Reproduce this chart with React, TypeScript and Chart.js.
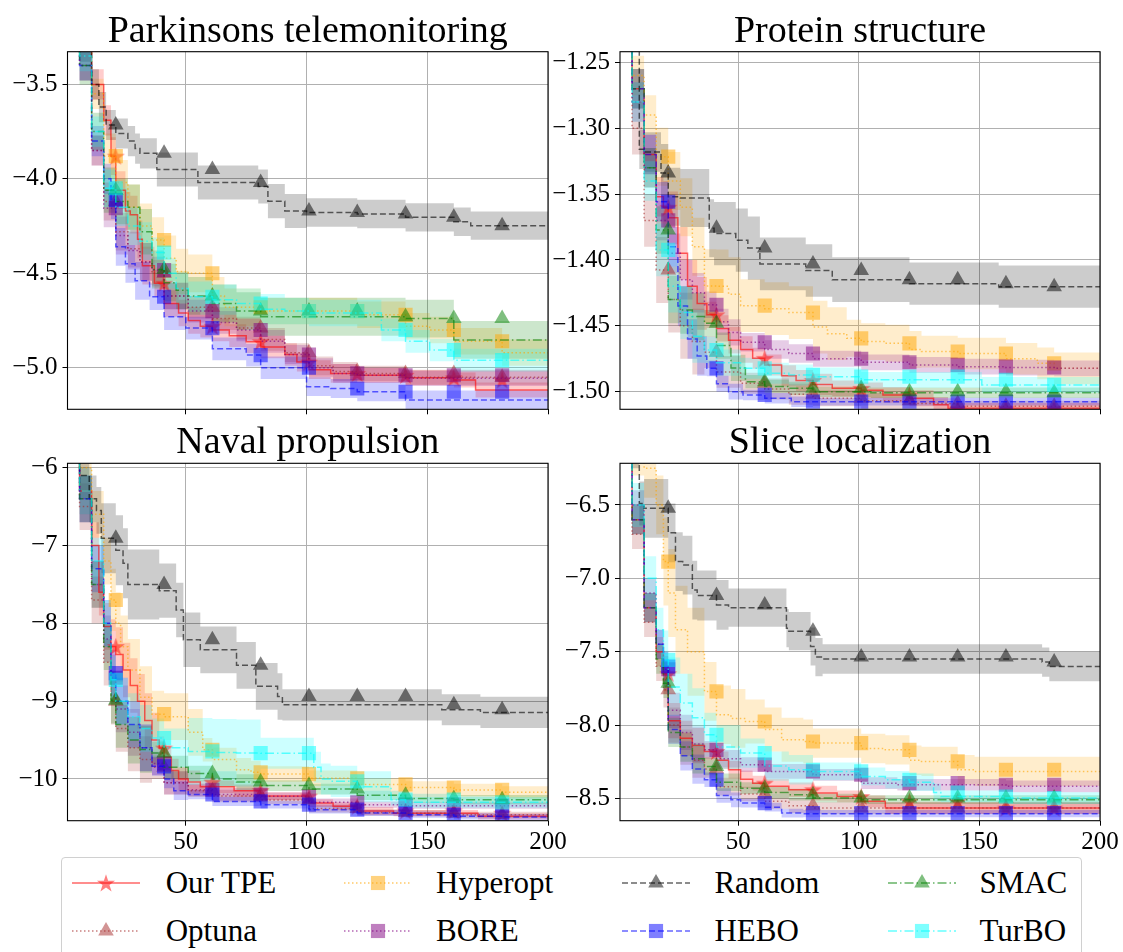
import React, { useEffect, useRef } from 'react';
import { Chart, registerables } from 'chart.js';

Chart.register(...registerables);
Chart.defaults.font.family = '"Liberation Serif", "Times New Roman", serif';

type Pt = [number, number];

// ---------- legend / series meta ----------
const METHODS = ['Our TPE', 'Optuna', 'Hyperopt', 'BORE', 'Random', 'HEBO', 'SMAC', 'TurBO'];
const X_TICKS = [50, 100, 150, 200];
const MARKER_X = [21, 41, 61, 81, 101, 121, 141, 161, 181];
const BAND_X = [1, 21, 41, 61, 101, 141];

// ---------- Parkinsons telemonitoring ----------
const PARK_Y_TICKS = [-5.0, -4.5, -4.0, -3.5];
const PARK_TPE: Pt[] = [[1,-2.5],[6,-2.9],[11,-3.25],[16,-3.5],[19,-3.69],[21,-3.88],[25,-4.06],[27,-4.17],[30,-4.19],[32,-4.32],[37,-4.46],[41,-4.553],[47,-4.66],[51,-4.71],[56,-4.75],[61,-4.78],[68,-4.8],[75,-4.83],[81,-4.862],[91,-4.89],[96,-4.93],[101,-4.97],[110,-5.01],[121,-5.03],[141,-5.04],[161,-5.053],[170,-5.065],[184,-5.118]];
const PARK_OPTUNA: Pt[] = [[1,-2.5],[6,-2.9],[11,-3.4],[16,-3.85],[21,-4.12],[26,-4.28],[31,-4.37],[36,-4.44],[41,-4.5],[51,-4.62],[61,-4.68],[71,-4.74],[81,-4.79],[91,-4.85],[101,-4.92],[111,-4.99],[121,-5.02],[141,-5.03],[181,-5.05]];
const PARK_HYPEROPT: Pt[] = [[1,-2.4],[6,-2.8],[11,-3.2],[16,-3.55],[21,-3.88],[26,-4.02],[31,-4.15],[36,-4.25],[41,-4.324],[46,-4.42],[51,-4.49],[61,-4.5],[66,-4.62],[81,-4.68],[101,-4.7],[121,-4.7],[141,-4.72],[151,-4.78],[161,-4.8],[181,-4.86],[191,-4.92]];
const PARK_BORE: Pt[] = [[1,-2.5],[6,-2.9],[11,-3.4],[16,-3.85],[21,-4.156],[26,-4.3],[31,-4.38],[36,-4.44],[41,-4.483],[51,-4.62],[61,-4.7],[71,-4.76],[81,-4.8],[91,-4.86],[101,-4.93],[111,-5.0],[121,-5.03],[141,-5.04],[190,-5.056]];
const PARK_RANDOM: Pt[] = [[1,-2.6],[6,-3.0],[11,-3.3],[14,-3.5],[17,-3.62],[21,-3.715],[26,-3.76],[29,-3.8],[31,-3.84],[38,-3.865],[55,-3.95],[80,-4.02],[84,-4.04],[91,-4.118],[100,-4.17],[121,-4.178],[141,-4.186],[161,-4.204],[168,-4.227],[173,-4.248]];
const PARK_HEBO: Pt[] = [[1,-2.5],[6,-2.9],[11,-3.4],[16,-3.8],[19,-4.0],[21,-4.112],[25,-4.36],[29,-4.45],[35,-4.54],[41,-4.624],[50,-4.73],[61,-4.79],[75,-4.9],[81,-4.933],[100,-5.0],[110,-5.1],[121,-5.11],[141,-5.127],[183,-5.171]];
const PARK_SMAC: Pt[] = [[1,-2.6],[6,-3.0],[11,-3.4],[16,-3.75],[21,-4.06],[26,-4.12],[31,-4.15],[36,-4.28],[41,-4.48],[46,-4.55],[51,-4.59],[61,-4.62],[71,-4.66],[81,-4.7],[141,-4.73],[161,-4.74],[194,-4.853]];
const PARK_TURBO: Pt[] = [[1,-2.5],[6,-2.9],[11,-3.35],[16,-3.75],[21,-4.05],[26,-4.15],[31,-4.25],[36,-4.33],[41,-4.39],[46,-4.5],[51,-4.58],[61,-4.624],[71,-4.64],[81,-4.66],[91,-4.69],[101,-4.7],[131,-4.71],[141,-4.8],[151,-4.86],[161,-4.906],[181,-4.96]];
const PARK_BANDS: number[][] = [
  [0.08, 0.1, 0.07, 0.06, 0.05, 0.04],
  [0.08, 0.1, 0.07, 0.06, 0.05, 0.04],
  [0.08, 0.12, 0.12, 0.1, 0.07, 0.07],
  [0.08, 0.1, 0.07, 0.06, 0.05, 0.04],
  [0.08, 0.08, 0.09, 0.09, 0.075, 0.075],
  [0.08, 0.1, 0.07, 0.06, 0.05, 0.05],
  [0.1, 0.12, 0.1, 0.1, 0.1, 0.1],
  [0.08, 0.1, 0.08, 0.08, 0.07, 0.06],
];

// ---------- Protein structure ----------
const PROT_Y_TICKS = [-1.5, -1.45, -1.4, -1.35, -1.3, -1.25];
const PROT_TPE: Pt[] = [[1,-1.1],[6,-1.2],[11,-1.27],[16,-1.32],[19,-1.352],[21,-1.36],[25,-1.368],[29,-1.395],[33,-1.42],[37,-1.433],[41,-1.4417],[46,-1.452],[51,-1.461],[56,-1.468],[61,-1.4747],[68,-1.4797],[74,-1.488],[81,-1.4915],[89,-1.4945],[101,-1.4975],[110,-1.499],[121,-1.5025],[131,-1.505],[137,-1.51],[141,-1.5126]];
const PROT_OPTUNA: Pt[] = [[1,-1.1],[6,-1.2],[11,-1.3],[16,-1.37],[21,-1.4076],[26,-1.43],[31,-1.45],[36,-1.462],[41,-1.47],[51,-1.485],[61,-1.4936],[71,-1.498],[81,-1.502],[101,-1.505],[121,-1.507],[141,-1.509],[161,-1.511]];
const PROT_HYPEROPT: Pt[] = [[1,-1.1],[6,-1.2],[11,-1.26],[16,-1.29],[21,-1.3216],[26,-1.34],[31,-1.36],[36,-1.39],[41,-1.4198],[46,-1.42],[51,-1.426],[61,-1.4347],[71,-1.437],[81,-1.44],[87,-1.451],[95,-1.456],[101,-1.4595],[111,-1.462],[121,-1.4633],[126,-1.468],[141,-1.4696],[161,-1.471],[174,-1.475],[181,-1.4785],[195,-1.4823]];
const PROT_BORE: Pt[] = [[1,-1.1],[6,-1.2],[11,-1.28],[16,-1.33],[21,-1.37],[26,-1.395],[31,-1.415],[36,-1.425],[41,-1.434],[46,-1.447],[51,-1.455],[61,-1.4625],[71,-1.468],[81,-1.471],[101,-1.475],[121,-1.4777],[141,-1.4797],[161,-1.481],[181,-1.4817],[190,-1.4823]];
const PROT_RANDOM: Pt[] = [[1,-1.05],[6,-1.15],[9,-1.22],[11,-1.316],[18,-1.318],[21,-1.334],[26,-1.352],[38,-1.353],[40,-1.376],[49,-1.38],[54,-1.385],[59,-1.391],[78,-1.403],[89,-1.408],[121,-1.415],[158,-1.418],[180,-1.4203]];
const PROT_HEBO: Pt[] = [[1,-1.1],[6,-1.2],[11,-1.27],[16,-1.32],[21,-1.3558],[25,-1.39],[29,-1.435],[33,-1.46],[37,-1.473],[41,-1.4823],[46,-1.494],[52,-1.5],[61,-1.5025],[72,-1.505],[81,-1.5076]];
const PROT_SMAC: Pt[] = [[1,-1.1],[6,-1.2],[11,-1.27],[16,-1.33],[21,-1.3773],[26,-1.43],[31,-1.438],[36,-1.443],[41,-1.4481],[47,-1.465],[53,-1.482],[61,-1.4924],[71,-1.496],[81,-1.4975],[105,-1.5],[170,-1.5008]];
const PROT_TURBO: Pt[] = [[1,-1.1],[6,-1.2],[11,-1.28],[16,-1.34],[21,-1.3924],[26,-1.42],[31,-1.44],[36,-1.458],[41,-1.4684],[51,-1.478],[61,-1.4823],[71,-1.486],[81,-1.4873],[101,-1.4886],[151,-1.491],[171,-1.4949]];
const PROT_BANDS: number[][] = [
  [0.015, 0.02, 0.01, 0.008, 0.006, 0.004],
  [0.02, 0.025, 0.012, 0.008, 0.006, 0.004],
  [0.015, 0.022, 0.028, 0.02, 0.014, 0.012],
  [0.015, 0.015, 0.01, 0.007, 0.006, 0.006],
  [0.015, 0.022, 0.024, 0.02, 0.017, 0.016],
  [0.015, 0.015, 0.006, 0.004, 0.003, 0.003],
  [0.015, 0.018, 0.01, 0.005, 0.004, 0.004],
  [0.015, 0.02, 0.01, 0.008, 0.007, 0.006],
];

// ---------- Naval propulsion ----------
const NAVAL_Y_TICKS = [-10, -9, -8, -7, -6];
const NAVAL_TPE: Pt[] = [[1,-5.0],[6,-5.6],[11,-6.3],[14,-7.0],[16,-7.6],[19,-8.04],[21,-8.298],[24,-8.4],[27,-8.6],[30,-8.8],[33,-9.0],[36,-9.25],[39,-9.5],[41,-9.603],[44,-9.72],[47,-9.89],[51,-10.0],[56,-10.04],[70,-10.1],[81,-10.15],[101,-10.22],[111,-10.31],[121,-10.35],[136,-10.41],[171,-10.44],[193,-10.48]];
const NAVAL_OPTUNA: Pt[] = [[1,-5.0],[6,-5.6],[11,-6.5],[16,-7.7],[19,-8.5],[21,-9.0],[26,-9.35],[31,-9.6],[36,-9.75],[41,-9.85],[51,-10.05],[61,-10.15],[81,-10.22],[101,-10.27],[121,-10.38],[141,-10.43],[161,-10.44],[181,-10.46]];
const NAVAL_HYPEROPT: Pt[] = [[1,-5.0],[6,-5.5],[11,-6.0],[16,-6.6],[19,-7.2],[21,-7.7],[23,-8.0],[26,-8.3],[31,-8.6],[36,-8.95],[41,-9.167],[51,-9.2],[57,-9.4],[61,-9.624],[71,-9.75],[77,-9.88],[81,-9.915],[101,-9.937],[121,-9.99],[141,-10.07],[161,-10.11],[181,-10.14],[190,-10.172]];
const NAVAL_BORE: Pt[] = [[1,-5.0],[6,-5.6],[11,-6.4],[16,-7.5],[19,-8.2],[21,-8.7],[26,-9.1],[31,-9.4],[36,-9.6],[41,-9.8],[51,-10.05],[61,-10.138],[81,-10.2],[101,-10.223],[121,-10.3],[141,-10.33],[181,-10.343]];
const NAVAL_RANDOM: Pt[] = [[1,-5.0],[6,-5.5],[10,-6.1],[13,-6.4],[15,-6.55],[21,-6.907],[24,-7.06],[26,-7.228],[39,-7.5],[46,-7.58],[49,-7.83],[56,-8.21],[71,-8.34],[79,-8.54],[88,-8.81],[90,-8.94],[156,-9.047],[172,-9.111],[190,-9.145]];
const NAVAL_HEBO: Pt[] = [[1,-5.0],[6,-5.6],[11,-6.4],[16,-7.3],[19,-8.0],[21,-8.64],[26,-9.0],[31,-9.3],[36,-9.6],[41,-9.838],[45,-10.0],[51,-10.15],[61,-10.2],[81,-10.288],[101,-10.33],[121,-10.394],[141,-10.437],[161,-10.459],[181,-10.48],[195,-10.489]];
const NAVAL_SMAC: Pt[] = [[1,-5.0],[6,-5.6],[11,-6.4],[16,-7.5],[19,-8.3],[21,-8.987],[26,-9.3],[31,-9.5],[36,-9.62],[41,-9.667],[51,-9.85],[61,-9.93],[71,-10.0],[81,-10.04],[101,-10.085],[121,-10.13],[141,-10.21],[161,-10.25],[181,-10.266]];
const NAVAL_TURBO: Pt[] = [[1,-5.0],[6,-5.6],[11,-6.3],[16,-7.2],[19,-8.0],[21,-8.726],[26,-9.0],[31,-9.2],[36,-9.35],[41,-9.474],[51,-9.6],[61,-9.646],[71,-9.66],[81,-9.667],[103,-9.67],[106,-9.85],[110,-10.0],[121,-10.03],[135,-10.1],[141,-10.266],[171,-10.3]];
const NAVAL_BANDS: number[][] = [
  [0.3, 0.35, 0.15, 0.08, 0.05, 0.04],
  [0.3, 0.3, 0.15, 0.08, 0.05, 0.04],
  [0.3, 0.4, 0.3, 0.15, 0.1, 0.08],
  [0.3, 0.3, 0.15, 0.08, 0.05, 0.04],
  [0.3, 0.45, 0.35, 0.3, 0.23, 0.2],
  [0.3, 0.3, 0.12, 0.06, 0.05, 0.04],
  [0.3, 0.3, 0.15, 0.1, 0.07, 0.06],
  [0.3, 0.3, 0.25, 0.43, 0.2, 0.07],
];

// ---------- Slice localization ----------
const SLICE_Y_TICKS = [-8.5, -8.0, -7.5, -7.0, -6.5];
const SLICE_TPE: Pt[] = [[1,-5.5],[6,-6.0],[11,-6.6],[16,-7.2],[19,-7.5],[21,-7.65],[26,-7.97],[31,-8.09],[36,-8.14],[41,-8.18],[46,-8.24],[51,-8.305],[56,-8.37],[61,-8.396],[71,-8.418],[81,-8.441],[91,-8.464],[101,-8.487],[111,-8.52],[146,-8.566]];
const SLICE_OPTUNA: Pt[] = [[1,-5.5],[6,-6.0],[11,-6.7],[16,-7.3],[19,-7.6],[21,-7.76],[26,-8.0],[31,-8.15],[36,-8.24],[41,-8.3],[51,-8.42],[61,-8.47],[71,-8.52],[81,-8.55],[101,-8.566]];
const SLICE_HYPEROPT: Pt[] = [[1,-5.5],[6,-5.9],[11,-6.1],[16,-6.25],[19,-6.5],[21,-6.886],[24,-7.1],[29,-7.35],[36,-7.5],[41,-7.771],[47,-7.93],[53,-7.955],[61,-7.976],[68,-8.03],[77,-8.1],[81,-8.112],[101,-8.123],[111,-8.16],[121,-8.169],[126,-8.24],[141,-8.248],[148,-8.305],[190,-8.316]];
const SLICE_BORE: Pt[] = [[1,-5.5],[6,-6.0],[11,-6.5],[16,-7.1],[19,-7.45],[21,-7.62],[26,-7.9],[31,-8.05],[36,-8.13],[41,-8.169],[51,-8.23],[61,-8.27],[81,-8.316],[101,-8.339],[116,-8.396],[161,-8.407],[186,-8.418]];
const SLICE_RANDOM: Pt[] = [[1,-5.5],[6,-6.0],[9,-6.1],[11,-6.49],[21,-6.523],[24,-6.69],[27,-6.886],[31,-6.91],[33,-7.08],[41,-7.117],[46,-7.181],[70,-7.2],[71,-7.34],[80,-7.36],[82,-7.465],[85,-7.537],[176,-7.55],[179,-7.571],[189,-7.601]];
const SLICE_HEBO: Pt[] = [[1,-5.5],[6,-6.0],[11,-6.6],[16,-7.2],[19,-7.45],[21,-7.601],[26,-8.03],[31,-8.21],[36,-8.3],[41,-8.373],[47,-8.48],[51,-8.51],[61,-8.532],[68,-8.56],[77,-8.6],[190,-8.604]];
const SLICE_SMAC: Pt[] = [[1,-5.5],[6,-6.0],[11,-6.6],[16,-7.2],[19,-7.55],[21,-7.715],[26,-8.05],[31,-8.15],[36,-8.23],[41,-8.282],[51,-8.39],[61,-8.43],[71,-8.46],[81,-8.475],[101,-8.498],[191,-8.509]];
const SLICE_TURBO: Pt[] = [[1,-5.5],[6,-6.0],[11,-6.5],[16,-7.0],[19,-7.35],[21,-7.556],[26,-7.74],[31,-7.85],[36,-7.95],[41,-8.066],[51,-8.15],[61,-8.191],[71,-8.28],[81,-8.305],[101,-8.316],[111,-8.35],[121,-8.373],[131,-8.39],[134,-8.46],[161,-8.487],[181,-8.498]];
const SLICE_BANDS: number[][] = [
  [0.1, 0.12, 0.06, 0.05, 0.04, 0.04],
  [0.1, 0.12, 0.06, 0.05, 0.04, 0.04],
  [0.2, 0.3, 0.2, 0.15, 0.1, 0.1],
  [0.1, 0.12, 0.06, 0.05, 0.04, 0.04],
  [0.15, 0.2, 0.17, 0.13, 0.1, 0.1],
  [0.1, 0.1, 0.05, 0.03, 0.025, 0.025],
  [0.1, 0.1, 0.06, 0.04, 0.03, 0.03],
  [0.15, 0.2, 0.15, 0.1, 0.06, 0.04],
];

// ---------- styles ----------
const COLORS: number[][] = [[255,0,0],[165,42,42],[255,165,0],[128,0,128],[0,0,0],[0,0,255],[0,128,0],[0,255,255]];
const DASHES: number[][] = [[], [1.5,2.5], [1.5,2.5], [1.5,2.5], [6,3], [6,3], [9,3,1.5,3], [9,3,1.5,3]];
const MARKERS = ['star', 'triangle', 'rect', 'rect', 'triangle', 'rect', 'triangle', 'rect'];
const FONT = '"Liberation Serif", "Times New Roman", serif';

const rgba = (c: number[], a: number) => `rgba(${c[0]},${c[1]},${c[2]},${a})`;

const PANELS = [
  { title: 'Parkinsons telemonitoring', series: [PARK_TPE, PARK_OPTUNA, PARK_HYPEROPT, PARK_BORE, PARK_RANDOM, PARK_HEBO, PARK_SMAC, PARK_TURBO], bands: PARK_BANDS, yTicks: PARK_Y_TICKS, dec: 1, yMin: -5.22, yMax: -3.327, showX: false,
    box: { left: 0, top: 0, width: 580, height: 440, areaLeft: 67.5, areaTop: 51.7, areaRight: 548, areaBottom: 409.3 } },
  { title: 'Protein structure', series: [PROT_TPE, PROT_OPTUNA, PROT_HYPEROPT, PROT_BORE, PROT_RANDOM, PROT_HEBO, PROT_SMAC, PROT_TURBO], bands: PROT_BANDS, yTicks: PROT_Y_TICKS, dec: 2, yMin: -1.5134, yMax: -1.2419, showX: false,
    box: { left: 540, top: 0, width: 583, height: 440, areaLeft: 620, areaTop: 51.7, areaRight: 1100, areaBottom: 409.3 } },
  { title: 'Naval propulsion', series: [NAVAL_TPE, NAVAL_OPTUNA, NAVAL_HYPEROPT, NAVAL_BORE, NAVAL_RANDOM, NAVAL_HEBO, NAVAL_SMAC, NAVAL_TURBO], bands: NAVAL_BANDS, yTicks: NAVAL_Y_TICKS, dec: 0, yMin: -10.536, yMax: -5.944, showX: true,
    box: { left: 0, top: 420, width: 580, height: 440, areaLeft: 67.5, areaTop: 463.3, areaRight: 548, areaBottom: 820.7 } },
  { title: 'Slice localization', series: [SLICE_TPE, SLICE_OPTUNA, SLICE_HYPEROPT, SLICE_BORE, SLICE_RANDOM, SLICE_HEBO, SLICE_SMAC, SLICE_TURBO], bands: SLICE_BANDS, yTicks: SLICE_Y_TICKS, dec: 1, yMin: -8.652, yMax: -6.216, showX: true,
    box: { left: 540, top: 420, width: 583, height: 440, areaLeft: 620, areaTop: 463.3, areaRight: 1100, areaBottom: 820.7 } },
];

// ---------- helpers ----------
function drawStar(ctx: CanvasRenderingContext2D, cx: number, cy: number, R: number, color: string) {
  const r = R * 0.382;
  ctx.beginPath();
  for (let k = 0; k < 10; k++) {
    const rad = k % 2 === 0 ? R : r;
    const a = -Math.PI / 2 + (k * Math.PI) / 5;
    const px = cx + rad * Math.cos(a);
    const py = cy + rad * Math.sin(a);
    if (k === 0) ctx.moveTo(px, py); else ctx.lineTo(px, py);
  }
  ctx.closePath();
  ctx.fillStyle = color;
  ctx.fill();
}

const starCache: Record<string, HTMLCanvasElement> = {};
function starCanvas(color: string, size: number) {
  const key = color + size;
  if (starCache[key]) return starCache[key];
  const c = document.createElement('canvas');
  c.width = size; c.height = size;
  const ctx = c.getContext('2d')!;
  drawStar(ctx, size / 2, size / 2 + 0.8, size / 2, color);
  starCache[key] = c;
  return c;
}

function stepValue(pts: Pt[], x: number) {
  let v = pts[0][1];
  for (const p of pts) if (p[0] <= x) v = p[1];
  return v;
}

function bandAt(hw: number[], x: number) {
  let h = hw[0];
  BAND_X.forEach((bx, k) => { if (x >= bx) h = hw[k]; });
  return h;
}

function buildDatasets(series: Pt[][], bands: number[][]) {
  const ds: any[] = [];
  let order = 10000;
  series.forEach((pts, i) => {
    const last = pts[pts.length - 1];
    const full: Pt[] = last[0] < 200 ? [...pts, [200, last[1]]] : pts;
    const c = COLORS[i];
    ds.push({
      data: full.map(([x, y]) => ({ x, y: y - bandAt(bands[i], x) })),
      borderWidth: 0, borderColor: 'transparent', pointRadius: 0, fill: false, stepped: 'after', order: order--,
    });
    ds.push({
      data: full.map(([x, y]) => ({ x, y: y + bandAt(bands[i], x) })),
      borderWidth: 0, borderColor: 'transparent', pointRadius: 0, fill: '-1', backgroundColor: rgba(c, 0.2), stepped: 'after', order: order--,
    });
    ds.push({
      data: full.map(([x, y]) => ({ x, y })),
      borderWidth: 1.5, borderColor: rgba(c, 0.6), borderDash: DASHES[i], pointRadius: 0, fill: false, stepped: 'after', order: order--,
    });
    const style = MARKERS[i];
    ds.push({
      data: MARKER_X.map((x) => ({ x, y: stepValue(full, x) })),
      showLine: false, fill: false,
      pointStyle: style === 'star' ? starCanvas(rgba(c, 0.5), 19) : style,
      pointRadius: style === 'rect' ? 10 : 9,
      pointBackgroundColor: rgba(c, 0.5), pointBorderWidth: 0, pointBorderColor: 'transparent',
      borderColor: 'transparent', order: order--,
    });
  });
  return ds;
}

const frameLabel = (v: number, dec: number) => (v < 0 ? '\u2212' : '') + Math.abs(v).toFixed(dec);

const framePlugin = {
  id: 'frameBox',
  afterDraw(chart: any) {
    const { ctx, chartArea: a } = chart;
    ctx.save();
    ctx.strokeStyle = '#000';
    ctx.lineWidth = 1.1;
    ctx.strokeRect(a.left, a.top, a.right - a.left, a.bottom - a.top);
    ctx.restore();
  },
};

function Panel({ panel }: { panel: any }) {
  const ref = useRef<HTMLCanvasElement>(null);
  const b = panel.box;
  useEffect(() => {
    const lineH = 1.05 * 38;
    const chart = new Chart(ref.current!, {
      type: 'line',
      data: { datasets: buildDatasets(panel.series, panel.bands) },
      options: {
        responsive: false,
        animation: false,
        devicePixelRatio: 1,
        events: [],
        layout: { autoPadding: false, padding: { left: 0, top: 0, right: b.left + b.width - b.areaRight, bottom: 0 } },
        plugins: {
          legend: { display: false },
          tooltip: { enabled: false },
          filler: { drawTime: 'beforeDatasetsDraw', propagate: false },
          title: {
            display: true, text: panel.title, fullSize: false, color: '#000',
            font: { family: FONT, size: 38, weight: 'normal', lineHeight: 1.05 },
            padding: { top: b.areaTop - b.top - lineH, bottom: 0 },
          },
        },
        scales: {
          x: {
            type: 'linear', min: 1, max: 200,
            afterBuildTicks: (s: any) => { s.ticks = X_TICKS.map((v) => ({ value: v })); },
            afterFit: (s: any) => { s.height = b.top + b.height - b.areaBottom; },
            grid: { color: '#b0b0b0', lineWidth: 1, tickColor: '#000', tickLength: 5, tickWidth: 1 },
            border: { display: false },
            ticks: { display: panel.showX, color: '#000', padding: 2, maxRotation: 0, autoSkip: false, font: { family: FONT, size: 25 }, callback: (v: any) => String(v) },
          },
          y: {
            type: 'linear', min: panel.yMin, max: panel.yMax,
            afterBuildTicks: (s: any) => { s.ticks = panel.yTicks.map((v: number) => ({ value: v })); },
            afterFit: (s: any) => { s.width = b.areaLeft - b.left; },
            grid: { color: '#b0b0b0', lineWidth: 1, tickColor: '#000', tickLength: 5, tickWidth: 1 },
            border: { display: false },
            ticks: { color: '#000', padding: 5, autoSkip: false, font: { family: FONT, size: 25 }, callback: (v: any) => frameLabel(Number(v), panel.dec) },
          },
        },
      } as any,
      plugins: [framePlugin],
    });
    return () => chart.destroy();
  }, []);
  return (
    <canvas ref={ref} width={b.width} height={b.height}
      style={{ position: 'absolute', left: b.left, top: b.top, width: b.width, height: b.height }} />
  );
}

// ---------- legend ----------
const LEGEND_HANDLE_X = [72, 344, 622, 888];
const LEGEND_TEXT_X = [165.7, 436, 714.4, 979.4];
const LEGEND_ROW_Y = [883, 930.5];

function drawMarker(ctx: CanvasRenderingContext2D, style: string, x: number, y: number, color: string) {
  ctx.fillStyle = color;
  if (style === 'rect') {
    const h = 10 * Math.SQRT1_2;
    ctx.fillRect(x - h, y - h, 2 * h, 2 * h);
  } else if (style === 'triangle') {
    const r = 9;
    ctx.beginPath();
    ctx.moveTo(x, y - r);
    ctx.lineTo(x + r * Math.sin((2 * Math.PI) / 3), y - r * Math.cos((2 * Math.PI) / 3));
    ctx.lineTo(x + r * Math.sin((4 * Math.PI) / 3), y - r * Math.cos((4 * Math.PI) / 3));
    ctx.closePath();
    ctx.fill();
  } else {
    drawStar(ctx, x, y + 0.8, 9.5, color);
  }
}

function LegendHandle({ i, left, top }: { i: number; left: number; top: number }) {
  const ref = useRef<HTMLCanvasElement>(null);
  useEffect(() => {
    const ctx = ref.current!.getContext('2d')!;
    const c = COLORS[i];
    ctx.clearRect(0, 0, 68, 30);
    ctx.save();
    ctx.strokeStyle = rgba(c, 0.6);
    ctx.lineWidth = 1.5;
    ctx.setLineDash(DASHES[i]);
    ctx.beginPath();
    ctx.moveTo(0, 15);
    ctx.lineTo(68, 15);
    ctx.stroke();
    ctx.restore();
    drawMarker(ctx, MARKERS[i], 34, 15, rgba(c, 0.5));
  }, []);
  return <canvas ref={ref} width={68} height={30} style={{ position: 'absolute', left, top, width: 68, height: 30 }} />;
}

function Legend() {
  const items = METHODS.map((name, i) => {
    const col = Math.floor(i / 2);
    const row = i % 2;
    return (
      <React.Fragment key={name}>
        <LegendHandle i={i} left={LEGEND_HANDLE_X[col]} top={LEGEND_ROW_Y[row] - 15} />
        <div style={{ position: 'absolute', left: LEGEND_TEXT_X[col], top: LEGEND_ROW_Y[row] - 18, height: 36, lineHeight: '36px', fontSize: 31, fontFamily: FONT, color: '#000', whiteSpace: 'nowrap' }}>
          {name}
        </div>
      </React.Fragment>
    );
  });
  return (
    <>
      <div style={{ position: 'absolute', left: 61, top: 857, width: 1021, height: 120, border: '1px solid #d0d0d0', borderRadius: 4, background: '#fff', boxSizing: 'border-box' }} />
      {items}
    </>
  );
}

export default function App() {
  return (
    <div style={{ position: 'absolute', left: 0, top: 0, width: 1123, height: 952, overflow: 'hidden', background: '#fff' }}>
      {PANELS.map((p, i) => <Panel key={i} panel={p} />)}
      <Legend />
    </div>
  );
}
